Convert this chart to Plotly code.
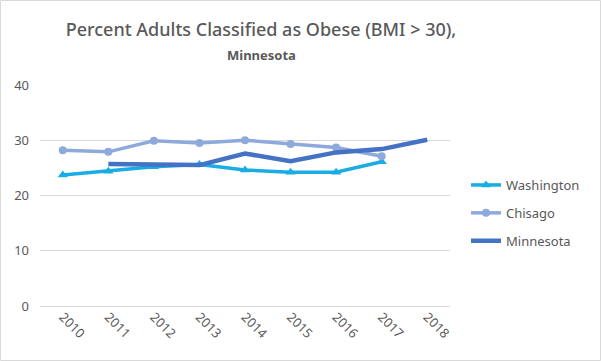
import plotly.graph_objects as go

years = ["2010", "2011", "2012", "2013", "2014", "2015", "2016", "2017", "2018"]
washington = [23.7, 24.4, 25.2, 25.6, 24.6, 24.2, 24.2, 26.1, None]
chisago = [28.2, 27.9, 29.9, 29.5, 30.0, 29.3, 28.7, 27.1, None]
minnesota = [None, 25.7, 25.7, 25.5, 27.6, 26.2, 27.8, 28.4, 30.1]

W, H = 601, 361
L, R, T, B = 40, 151, 85, 55
pw, ph = W - L - R, H - T - B
CX = 261

fig = go.Figure()
fig.add_trace(go.Scatter(x=years, y=washington, name="Washington", mode="lines+markers",
                         legendgroup="a",
                         line=dict(color="#1AADE3", width=3.5),
                         marker=dict(symbol="triangle-up", size=9, color="#1AADE3")))
fig.add_trace(go.Scatter(x=years, y=chisago, name="Chisago", mode="lines+markers",
                         legendgroup="b",
                         line=dict(color="#8EA9DB", width=3.5),
                         marker=dict(symbol="circle", size=8, color="#8EA9DB")))
fig.add_trace(go.Scatter(x=years, y=minnesota, name="Minnesota", mode="lines",
                         legendgroup="c",
                         line=dict(color="#4472C4", width=4.5)))

fig.update_layout(
    width=W, height=H,
    margin=dict(l=L, r=R, t=T, b=B, autoexpand=False),
    paper_bgcolor="white", plot_bgcolor="white",
    font=dict(family="Noto Sans", color="#595959", size=12),
    title=dict(text="Percent Adults Classified as Obese (BMI > 30),",
               x=CX / W, xanchor="center", xref="container", y=1 - 30 / H, yanchor="middle",
               font=dict(size=18, color="#595959", family="Noto Sans", weight=500)),
    annotations=[dict(text="<b>Minnesota</b>", xref="paper", yref="paper",
                      x=(CX - L) / pw, y=1 + (T - 55) / ph, xanchor="center",
                      yanchor="middle", showarrow=False,
                      font=dict(size=13, color="#595959", family="Noto Sans"))],
    showlegend=True,
    legend=dict(x=(466 - L) / pw, xanchor="left", y=1 - (170 - T) / ph, yanchor="top",
                font=dict(size=13, color="#595959"), tracegroupgap=8, itemwidth=30,
                bgcolor="rgba(0,0,0,0)"),
    xaxis=dict(type="category", range=[-0.5, 8.5], tickangle=45, showgrid=False,
               showline=False, ticks="", automargin=False,
               tickfont=dict(size=13, color="#595959")),
    yaxis=dict(range=[0, 40], dtick=10, showgrid=True, gridcolor="#D9D9D9", gridwidth=1,
               zeroline=True, zerolinecolor="#D9D9D9", zerolinewidth=1, showline=False,
               automargin=False,
               ticks="", ticklabelstandoff=10, tickfont=dict(size=13, color="#595959")),
    shapes=[dict(type="rect", xref="paper", yref="paper",
                 x0=(0.5 - L) / pw, x1=(W - 0.5 - L) / pw,
                 y0=-(H - 0.5 - T - ph) / ph, y1=1 + (T - 0.5) / ph,
                 line=dict(color="#D9D9D9", width=1))],
)

fig.write_html("out.html", config={"displayModeBar": False},
               post_script="document.body.style.margin='0';")
